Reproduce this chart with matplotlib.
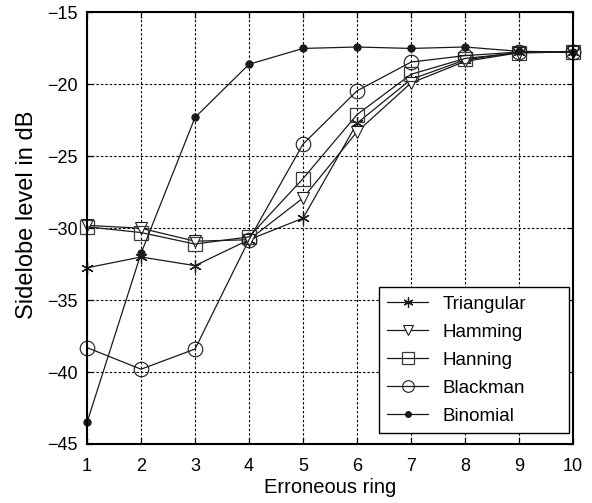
import matplotlib
matplotlib.use("Agg")
import matplotlib.pyplot as plt

rings = [1, 2, 3, 4, 5, 6, 7, 8, 9, 10]
triangular = [-32.75, -32.0, -32.6, -30.8, -29.3, -22.7, -19.65, -18.3, -17.75, -17.75]
hamming = [-29.8, -30.0, -30.9, -30.8, -27.9, -23.3, -19.9, -18.4, -17.8, -17.75]
hanning = [-29.9, -30.3, -31.1, -30.6, -26.55, -22.1, -19.3, -18.2, -17.8, -17.75]
blackman = [-38.3, -39.8, -38.4, -30.8, -24.15, -20.45, -18.45, -18.0, -17.75, -17.75]
binomial = [-43.5, -31.75, -22.3, -18.6, -17.5, -17.4, -17.5, -17.4, -17.7, -17.75]
labels = ["Triangular", "Hamming", "Hanning", "Blackman", "Binomial"]

plt.rcParams['font.family'] = ['Liberation Sans', 'DejaVu Sans']

fig = plt.figure(figsize=(5.92, 5.03), dpi=100)
ax = fig.add_axes([0.1470, 0.1173, 0.8209, 0.8579])

lw = 0.9
lc = '#1a1a1a'
common = dict(color=lc, lw=lw, clip_on=False)
ax.plot(rings, triangular, marker=(6, 2, 0), ms=9, mew=0.9, mec=lc, label=labels[0], **common)
ax.plot(rings, hamming, marker='v', ms=9, mfc='white', mec=lc, mew=0.8, label=labels[1], **common)
ax.plot(rings, hanning, marker='s', ms=10, mfc='none', mec='#3a3a3a', mew=0.9, label=labels[2], **common)
ax.plot(rings, blackman, marker='o', ms=10.5, mfc='none', mec=lc, mew=0.8, label=labels[3], **common)
ax.plot(rings, binomial, marker='o', ms=5, mfc=lc, mec=lc, label=labels[4], **common)

ax.set_xlim(1, 10)
ax.set_ylim(-45, -15)
ax.set_xticks(rings)
ax.set_yticks([-45, -40, -35, -30, -25, -20, -15])
ax.grid(True, color='black', linestyle=(0, (2.2, 1.8)), linewidth=0.8)
ax.tick_params(direction='in', top=True, right=True, labelsize=13, length=4, width=0.9)
ax.tick_params(axis='y', pad=7)
ax.tick_params(axis='x', pad=10)
for s in ax.spines.values():
    s.set_linewidth(1.5)
ax.set_xlabel("Erroneous ring", fontsize=14.5, labelpad=2)
ax.set_ylabel("Sidelobe level in dB", fontsize=17)
ax.yaxis.set_label_coords(-0.10, 0.53)

# legend box in axes fraction: x 379-569, y 286-433 px
x0 = (379 - 87) / 486
w = (569 - 379) / 486
y0 = (444 - 433) / 431.5
leg = ax.legend(loc='lower left', bbox_to_anchor=(x0, y0, w, 0.3), mode='expand',
                borderaxespad=0, fontsize=13.5, fancybox=False, framealpha=1,
                edgecolor='black', borderpad=0.45, handlelength=2.15,
                handletextpad=0.8, labelspacing=0.58, markerscale=0.8)
leg.get_frame().set_linewidth(1.0)

fig.savefig("out.png", dpi=100)
